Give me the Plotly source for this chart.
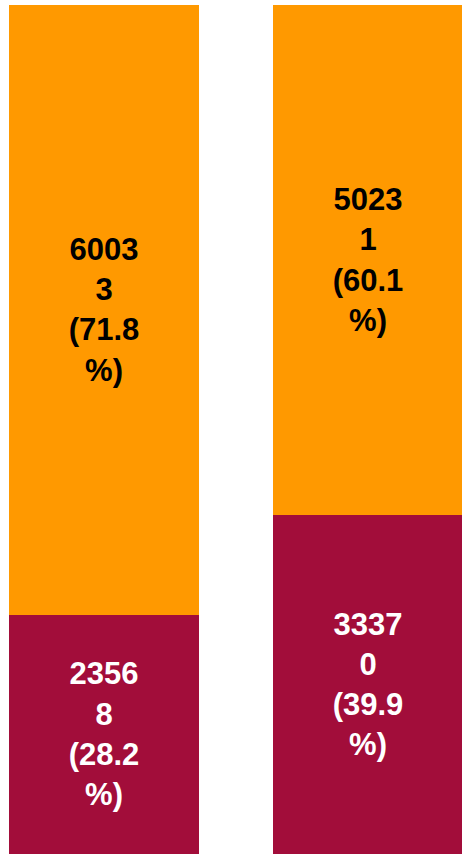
import plotly.graph_objects as go

# two groups, stacked: bottom segment (maroon) + top segment (orange)
groups = [0, 1]
bottom_values = [23568, 33370]
top_values = [60033, 50231]

BOTTOM_COLOR = "#A20D3A"
TOP_COLOR = "#FF9900"

# rough glyph widths (em) of a bold sans font, used to wrap labels like the original
GLYPH_W = {".": 0.278, "(": 0.333, ")": 0.333, "%": 0.889}


def wrap_label(text, max_em=2.3):
    lines = []
    for word in text.split(" "):
        line, width = "", 0.0
        for ch in word:
            w = GLYPH_W.get(ch, 0.556)
            if line and width + w > max_em:
                lines.append(line)
                line, width = "", 0.0
            line += ch
            width += w
        lines.append(line)
    return "<br>".join(lines)


totals = [b + t for b, t in zip(bottom_values, top_values)]


def labels(values):
    return [wrap_label(f"{v} ({v / tot * 100:.1f}%)") for v, tot in zip(values, totals)]


fig = go.Figure()
fig.add_trace(go.Bar(
    x=groups, y=bottom_values, marker_color=BOTTOM_COLOR, marker_line_width=0,
    text=labels(bottom_values), textposition="inside", insidetextanchor="middle",
    textfont=dict(family="Liberation Sans, Arial", size=31, color="white", weight="bold"),
    width=0.72, hoverinfo="skip",
))
fig.add_trace(go.Bar(
    x=groups, y=top_values, marker_color=TOP_COLOR, marker_line_width=0,
    text=labels(top_values), textposition="inside", insidetextanchor="middle",
    textfont=dict(family="Liberation Sans, Arial", size=31, color="black", weight="bold"),
    width=0.72, hoverinfo="skip",
))

fig.update_layout(
    barmode="stack",
    width=462, height=854,
    margin=dict(l=0, r=0, t=5, b=0),
    paper_bgcolor="white", plot_bgcolor="white",
    showlegend=False,
    uniformtext=dict(mode=False),
    xaxis=dict(visible=False, range=[-0.394, 1.356]),
    yaxis=dict(visible=False, range=[0, max(totals)]),
)

# drop the browser's default 8px body margin so the figure sits flush in the window
fig.write_html("out.html", config={"displayModeBar": False},
               post_script="document.body.style.margin='0';")
